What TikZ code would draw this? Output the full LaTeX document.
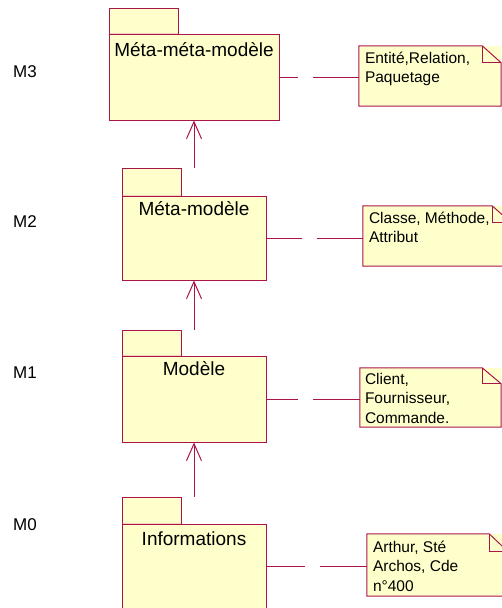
\documentclass[tikz,border=0pt]{standalone}
\usepackage{fontspec}
\setmainfont{Liberation Sans}
\usetikzlibrary{positioning, arrows.meta}

\definecolor{pkgfill}{RGB}{255,255,204}
\definecolor{pkgline}{RGB}{170,20,75}
\definecolor{pkgseam}{RGB}{238,210,190}

\begin{document}
\begin{tikzpicture}[x=1pt, y=-1pt,
    pkgbody/.style={rectangle, draw=pkgline, fill=pkgfill, line width=1pt, inner sep=0pt},
    pkgtab/.style={rectangle, draw=pkgline, fill=pkgfill, line width=1pt, inner sep=0pt, anchor=south west},
    pkgseam/.style={draw=pkgseam, line width=1pt},
    pkgname/.style={font=\fontsize{19}{21}\selectfont, inner sep=0pt, text height=14pt, text depth=4pt},
    notebg/.style={rectangle, fill=pkgfill, inner sep=0pt},
    noteline/.style={draw=pkgline, line width=1pt, line join=miter},
    notetext/.style={font=\fontsize{15.5}{19.5}\selectfont, inner sep=0pt, align=left},
    level/.style={font=\fontsize{17}{20}\selectfont, inner sep=0pt, anchor=west},
    extends/.style={draw=pkgline, line width=1pt, -{Straight Barb[length=17pt, width=15pt]}},
    link/.style={draw=pkgline, line width=1pt, dash pattern=on #1 off 15pt on 400pt}
]
\useasboundingbox (0,0) rectangle (502,608);
\clip (0,0) rectangle (502,608);

% level labels
\node[level] (m3) at (13,72) {M3};
\node[level] (m2) at (13,222) {M2};
\node[level] (m1) at (13,373) {M1};
\node[level] (m0) at (13,525) {M0};

% packages
\node[pkgbody, minimum width=170pt, minimum height=86pt] (metameta) at (194,77) {};
\node[pkgtab, minimum width=69pt, minimum height=25pt] (metametatab) at (metameta.north west) {};
\draw[pkgseam] ([xshift=1pt]metametatab.south west) -- ([xshift=-1pt]metametatab.south east);
\node[pkgname, below=9pt of metameta.north] (metametaname) {Méta-méta-modèle};

\node[pkgbody, minimum width=144pt, minimum height=84pt] (meta) at (194,238) {};
\node[pkgtab, minimum width=59pt, minimum height=27pt] (metatab) at (meta.north west) {};
\draw[pkgseam] ([xshift=1pt]metatab.south west) -- ([xshift=-1pt]metatab.south east);
\node[pkgname, below=6pt of meta.north] (metaname) {Méta-modèle};

\node[pkgbody, minimum width=144pt, minimum height=86pt] (model) at (194,399) {};
\node[pkgtab, minimum width=59pt, minimum height=25pt] (modeltab) at (model.north west) {};
\draw[pkgseam] ([xshift=1pt]modeltab.south west) -- ([xshift=-1pt]modeltab.south east);
\node[pkgname, below=6pt of model.north] (modelname) {Modèle};

\node[pkgbody, minimum width=144pt, minimum height=84pt] (data) at (194,566) {};
\node[pkgtab, minimum width=59pt, minimum height=26pt] (datatab) at (data.north west) {};
\draw[pkgseam] ([xshift=1pt]datatab.south west) -- ([xshift=-1pt]datatab.south east);
\node[pkgname, below=8pt of data.north] (dataname) {Informations};

% instance-of arrows
\draw[extends] (meta.north |- metatab.north) -- (metameta.south);
\draw[extends] (model.north |- modeltab.north) -- (meta.south);
\draw[extends] (data.north |- datatab.north) -- (model.south);

% notes
\node[notebg, minimum width=142pt, minimum height=60pt] (note3) at (430,76) {};
\draw[noteline] (note3.south west) -- (note3.north west) -- ([xshift=-19pt]note3.north east)
    -- ([yshift=-17pt]note3.north east) -- (note3.south east) -- cycle;
\draw[noteline] ([xshift=-19pt]note3.north east) |- ([yshift=-17pt]note3.north east);
\node[notetext, below right=6pt and 6pt of note3.north west, anchor=north west] (note3text) {Entité,Relation,\\Paquetage};

\node[notebg, minimum width=148pt, minimum height=60pt] (note2) at (437,236) {};
\draw[noteline] (note2.south west) -- (note2.north west) -- ([xshift=-19pt]note2.north east)
    -- ([yshift=-17pt]note2.north east) -- (note2.south east) -- cycle;
\draw[noteline] ([xshift=-19pt]note2.north east) |- ([yshift=-17pt]note2.north east);
\node[notetext, below right=6pt and 6pt of note2.north west, anchor=north west] (note2text) {Classe, Méthode,\\Attribut};

\node[notebg, minimum width=141pt, minimum height=59pt] (note1) at (430.5,397.5) {};
\draw[noteline] (note1.south west) -- (note1.north west) -- ([xshift=-19pt]note1.north east)
    -- ([yshift=-16pt]note1.north east) -- (note1.south east) -- cycle;
\draw[noteline] ([xshift=-19pt]note1.north east) |- ([yshift=-16pt]note1.north east);
\node[notetext, below right=5pt and 5pt of note1.north west, anchor=north west] (note1text) {Client,\\Fournisseur,\\Commande.};

\node[notebg, minimum width=141pt, minimum height=62pt] (note0) at (437.5,565) {};
\draw[noteline] (note0.south west) -- (note0.north west) -- ([xshift=-19pt]note0.north east)
    -- ([yshift=-18pt]note0.north east) -- (note0.south east) -- cycle;
\draw[noteline] ([xshift=-19pt]note0.north east) |- ([yshift=-18pt]note0.north east);
\node[notetext, below right=7pt and 6pt of note0.north west, anchor=north west] (note0text) {Arthur, Sté\\Archos, Cde\\n°400};

% links to notes
\draw[link=18pt] (metameta.east) -- (metameta.east -| note3.west);
\draw[link=35pt] (meta.east) -- (meta.east -| note2.west);
\draw[link=31pt] (model.east) -- (model.east -| note1.west);
\draw[link=38pt] (data.east) -- (data.east -| note0.west);

\end{tikzpicture}
\end{document}
